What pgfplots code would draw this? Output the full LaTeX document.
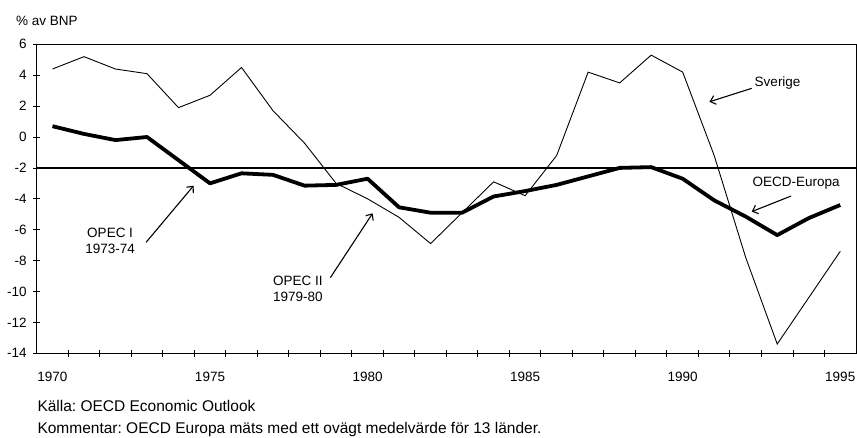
\documentclass[border=0pt]{standalone}
\usepackage{fontspec}
\setmainfont{Liberation Sans}
\usepackage{pgfplots}
\pgfplotsset{compat=1.18}
\usetikzlibrary{arrows.meta}
\newcommand{\tf}{\fontsize{13.5}{16}\selectfont}
\newcommand{\ff}{\fontsize{15.5}{18}\selectfont}
\frenchspacing
\begin{document}
\frenchspacing
\begin{tikzpicture}[x=1pt,y=1pt]
\useasboundingbox (-36.7,-83.7) rectangle (820.3,353.3);
\begin{axis}[
  at={(0,0)}, anchor=south west,
  scale only axis, width=819.3pt, height=309pt,
  xmin=1969.5, xmax=1995.5, ymin=-14, ymax=6,
  ytick={-14,-12,...,6}, ytick pos=left,
  xtick={1970.5,1971.5,...,1994.5}, xticklabels={}, xtick pos=bottom,
  extra x ticks={1970,1975,1980,1985,1990,1995},
  extra x tick labels={1970,1975,1980,1985,1990,1995},
  extra x tick style={major tick length=0pt, xticklabel style={yshift=-15pt}},
  tick align=center, major tick length=7pt,
  tick style={black, line width=0.8pt},
  axis line style={line width=0.8pt},
  /pgf/number format/assume math mode=true,
  yticklabel style={font=\tf, xshift=-3pt},
  xticklabel style={font=\tf},
  clip=false,
]
\addplot[black, line width=1.2pt] coordinates {(1969.5,-2) (1995.5,-2)};
\addplot[black, line width=0.9pt, line join=miter] coordinates {
(1970,4.4) (1971,5.2) (1972,4.4) (1973,4.1) (1974,1.9) (1975,2.7) (1976,4.5)
(1977,1.7) (1978,-0.4) (1979,-3.0) (1980,-4.0) (1981,-5.2) (1982,-6.9) (1983,-4.9)
(1984,-2.9) (1985,-3.8) (1986,-1.2) (1987,4.2) (1988,3.5) (1989,5.3) (1990,4.2)
(1991,-1.2) (1992,-7.8) (1993,-13.4) (1994,-10.4) (1995,-7.4)};
\addplot[black, line width=3.8pt, line join=round] coordinates {
(1970,0.7) (1971,0.2) (1972,-0.2) (1973,0.0) (1974,-1.5) (1975,-3.0) (1976,-2.35)
(1977,-2.45) (1978,-3.15) (1979,-3.1) (1980,-2.7) (1981,-4.55) (1982,-4.9) (1983,-4.9)
(1984,-3.85) (1985,-3.5) (1986,-3.1) (1987,-2.55) (1988,-2.0) (1989,-1.95) (1990,-2.7)
(1991,-4.1) (1992,-5.15) (1993,-6.35) (1994,-5.25) (1995,-4.4)};
\node[anchor=west, font=\tf, inner sep=0pt] at (axis cs:1992.28,3.5) {Sverige};
\draw[line width=1.1pt, -{Straight Barb[length=5pt,width=9pt]}] (axis cs:1992.19,3.15) -- (axis cs:1990.85,2.28);
\node[anchor=west, font=\tf, inner sep=0pt] at (axis cs:1992.21,-2.96) {OECD-Europa};
\draw[line width=1.1pt, -{Straight Barb[length=5pt,width=9pt]}] (axis cs:1993.44,-3.82) -- (axis cs:1992.19,-4.83);
\node[align=center, font=\tf, inner sep=0pt] at (axis cs:1971.83,-6.7) {OPEC I\\1973-74};
\draw[line width=1.1pt, -{Straight Barb[length=5pt,width=9pt]}] (axis cs:1972.97,-6.82) -- (axis cs:1974.48,-3.15);
\node[align=center, font=\tf, inner sep=0pt] at (axis cs:1977.79,-9.84) {OPEC II\\1979-80};
\draw[line width=1.1pt, -{Straight Barb[length=5pt,width=9pt]}] (axis cs:1978.82,-9.1) -- (axis cs:1980.16,-4.94);
\end{axis}
\node[anchor=west, font=\tf, inner sep=0pt] at (-20.7,332.3) {\% av BNP};
\node[anchor=west, font=\ff, inner sep=0pt] at (0.6,-52.4) {Källa: OECD Economic Outlook};
\node[anchor=west, font=\ff, inner sep=0pt] at (0.6,-76) {Kommentar: OECD Europa mäts med ett ovägt medelvärde för 13 länder.};
\end{tikzpicture}
\end{document}
